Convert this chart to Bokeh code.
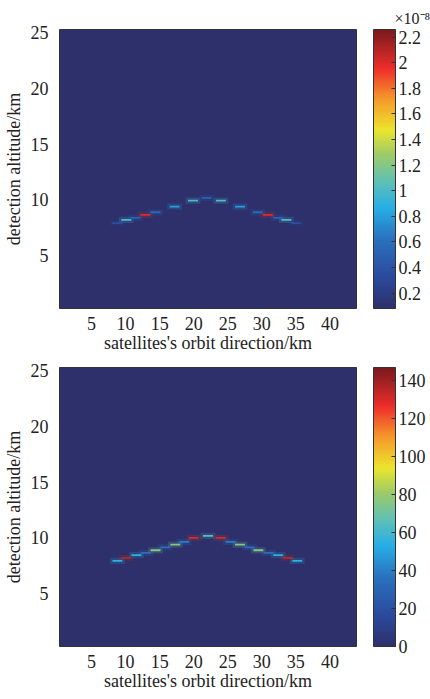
import numpy as np
from bokeh.plotting import figure
from bokeh.models import (ColumnDataSource, LinearColorMapper, ColorBar, FixedTicker,
                          CustomJSTickFormatter, Title)
from bokeh.layouts import column
from bokeh.embed import file_html
from bokeh.resources import INLINE
from bokeh.transform import transform

# ---------------- data ----------------
# top panel: echo segments (values in units of 1e-8)
top_x = [8.8, 10.1, 11.45, 12.9, 14.4, 17.2, 19.9, 21.9, 24.0, 26.8, 29.4, 30.9, 32.4, 33.6, 35.0]
top_y = [7.9, 8.2, 8.38, 8.65, 8.88, 9.39, 9.93, 10.17, 9.93, 9.39, 8.88, 8.65, 8.38, 8.2, 7.9]
top_v = [0.35, 1.0, 0.5, 2.0, 0.55, 0.8, 1.0, 0.5, 1.0, 0.8, 0.55, 2.0, 0.5, 1.0, 0.35]
top_low, top_high = 0.08, 2.26
top_ticks = [0.2, 0.4, 0.6, 0.8, 1.0, 1.2, 1.4, 1.6, 1.8, 2.0, 2.2]

# bottom panel: echo segments
bot_x = [8.8, 10.1, 11.6, 13.0, 14.4, 15.8, 17.3, 18.6, 20.0, 22.1, 24.0, 25.4, 26.8, 28.2, 29.5, 31.0, 32.4, 33.8, 35.2]
bot_y = [7.93, 8.2, 8.44, 8.65, 8.88, 9.13, 9.39, 9.64, 10.0, 10.17, 10.0, 9.64, 9.39, 9.13, 8.88, 8.65, 8.44, 8.2, 7.93]
bot_v = [55, 135, 55, 35, 75, 35, 75, 40, 130, 65, 130, 40, 75, 35, 75, 35, 55, 135, 55]
bot_low, bot_high = 0, 147
bot_ticks = [0, 20, 40, 60, 80, 100, 120, 140]

x_ticks = [5, 10, 15, 20, 25, 30, 35, 40]
y_ticks = [5, 10, 15, 20, 25]
x_range = (0.3, 43.9)
y_range = (0.25, 25.27)

# washed-out jet palette
anchors = [(0.0, "#2d306b"), (0.11, "#2b4a9c"), (0.25, "#2a72bf"), (0.36, "#27aee6"),
           (0.45, "#5cc0b8"), (0.55, "#9ccb6a"), (0.64, "#ece52d"), (0.75, "#f59a2b"),
           (0.86, "#ee2e2a"), (1.0, "#7a1a1e")]

def hex2rgb(h):
    return [int(h[i:i + 2], 16) for i in (1, 3, 5)]

pos = np.array([a[0] for a in anchors])
cols = np.array([hex2rgb(a[1]) for a in anchors], dtype=float)
t = np.linspace(0, 1, 256)
palette = []
for ti in t:
    rgb = [int(round(np.interp(ti, pos, cols[:, k]))) for k in range(3)]
    palette.append("#%02x%02x%02x" % tuple(rgb))

FONT = "Liberation Serif"
FS = "18px"
SEG_W = 1.45
SEG_H = 0.16


def make_panel(xs, ys, vs, low, high, ticks, top_border, bottom_border, title):
    mapper = LinearColorMapper(palette=palette, low=low, high=high)
    p = figure(frame_width=297, frame_height=279, x_range=x_range, y_range=y_range,
               output_backend="svg", toolbar_location=None,
               min_border_left=57, min_border_right=76,
               min_border_top=top_border, min_border_bottom=bottom_border)
    p.background_fill_color = palette[0]
    p.border_fill_color = "white"
    p.outline_line_color = "#333333"
    p.outline_line_width = 1
    p.grid.visible = False

    src = ColumnDataSource(dict(x=xs, y=ys, v=vs))
    # soft glow (scan blur) and the sharp segment on top
    p.rect(x="x", y="y", width=SEG_W * 1.5, height=SEG_H * 3.5, source=src,
           fill_color=transform("v", mapper), fill_alpha=0.18, line_color=None)
    p.rect(x="x", y="y", width=SEG_W, height=SEG_H, source=src,
           fill_color=transform("v", mapper), line_color=None)

    for ax in (p.xaxis[0], p.yaxis[0]):
        ax.axis_line_color = None
        ax.major_tick_line_color = None
        ax.minor_tick_line_color = None
        ax.major_label_text_font = FONT
        ax.major_label_text_font_size = FS
        ax.major_label_text_color = "#222222"
        ax.axis_label_text_font = FONT
        ax.axis_label_text_font_size = FS
        ax.axis_label_text_font_style = "normal"
        ax.axis_label_text_color = "#222222"
    p.xaxis.ticker = FixedTicker(ticks=x_ticks)
    p.yaxis.ticker = FixedTicker(ticks=y_ticks)
    p.xaxis.axis_label = "satellites's orbit direction/km"
    p.yaxis.axis_label = "detection altitude/km"
    p.xaxis.major_label_standoff = 2
    p.yaxis.major_label_standoff = 5
    p.xaxis.axis_label_standoff = 0
    p.yaxis.axis_label_standoff = 4

    cb = ColorBar(color_mapper=mapper, width=22, height=279, padding=0,
                  location=(17, 0),
                  ticker=FixedTicker(ticks=ticks),
                  formatter=CustomJSTickFormatter(code="return String(Math.round(tick*10)/10)"),
                  major_label_text_font=FONT, major_label_text_font_size=FS,
                  major_label_text_color="#222222",
                  major_tick_line_color="#333333", major_tick_in=4, major_tick_out=0,
                  minor_tick_line_color=None, bar_line_color="#333333",
                  label_standoff=3, background_fill_color=None, border_line_color=None)
    p.add_layout(cb, "right")

    if title:
        t_ = Title(text=title, align="left", offset=335, text_font=FONT,
                   text_font_size="16px", text_font_style="normal",
                   text_color="#222222", standoff=6)
        p.add_layout(t_, "above")
    return p


p1 = make_panel(top_x, top_y, top_v, top_low, top_high, top_ticks, 29, 42, "×10⁻⁸")
p2 = make_panel(bot_x, bot_y, bot_v, bot_low, bot_high, bot_ticks, 12, 45, None)

layout = column(p1, p2, spacing=0)
open("out.html", "w").write(file_html(layout, INLINE))
